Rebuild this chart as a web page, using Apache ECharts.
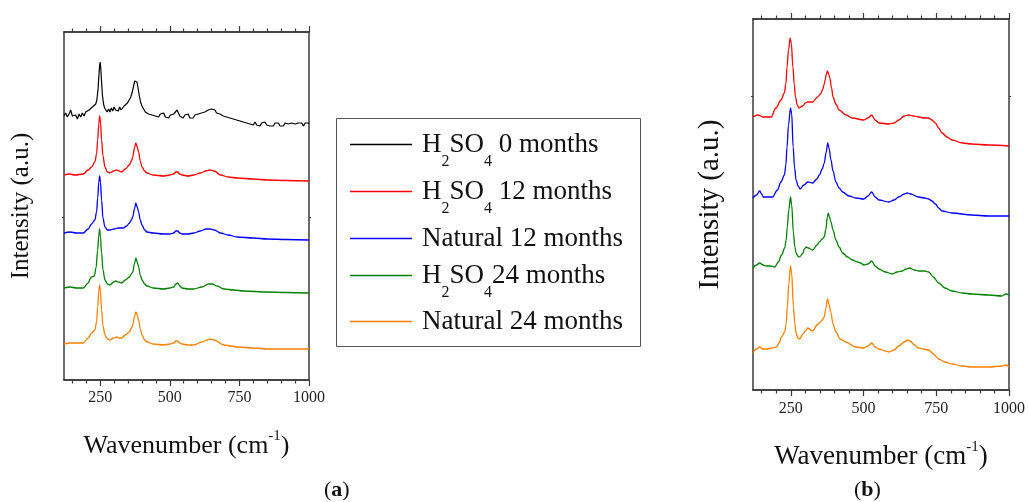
<!DOCTYPE html>
<html><head><meta charset="utf-8">
<script src="https://cdn.jsdelivr.net/npm/echarts@6/dist/echarts.min.js"></script>
<style>html,body{margin:0;padding:0;background:#fff}#c{width:1028px;height:502px}</style>
</head><body><div id="c"></div>
<script>
const FONT = '"Liberation Serif", "Times New Roman", serif';

// ---------- data ----------
const seriesNames = ['H2SO4 0 months', 'H2SO4 12 months', 'Natural 12 months', 'H2SO4 24 months', 'Natural 24 months'];
const seriesColors = ['#000000', '#ff0000', '#0000ff', '#008000', '#ff8000'];
const majorTicks = [250, 500, 750, 1000];
const minorTicks = [150, 200, 300, 350, 400, 450, 550, 600, 650, 700, 800, 850, 900, 950];

// panel (a): [wavenumber, intensity (a.u., offset-stacked)]
const aH2SO4_0 = [[120,264],[126,267],[132,263],[138,266],[144,270],[150,264],[156,262],[162,265],[168,261],[174,266],[180,263],[186,267],[192,264],[198,268],[204,266],[210,270],[216,268],[222,273],[228,271],[234,276],[238,280],[242,290],[245,303],[248,315],[250,318],[252,312],[255,298],[258,285],[262,276],[266,272],[270,270],[275,268],[280,271],[285,268],[290,272],[295,269],[300,273],[305,270],[310,272],[315,269],[320,273],[325,270],[330,272],[336,274],[342,273],[348,277],[354,279],[360,283],[366,289],[370,294],[374,299],[378,301],[382,298],[386,292],[390,285],[395,278],[400,274],[406,272],[412,268],[418,270],[424,266],[430,268],[436,265],[442,267],[448,264],[454,266],[460,263],[466,266],[472,264],[478,267],[484,263],[490,265],[496,262],[502,265],[508,263],[514,266],[520,268],[526,270],[530,268],[536,264],[542,266],[548,262],[554,265],[560,263],[566,266],[572,262],[578,264],[584,262],[590,265],[596,263],[602,266],[608,264],[614,267],[620,266],[626,268],[632,267],[638,270],[644,268],[650,271],[656,269],[662,270],[668,267],[674,269],[680,266],[686,267],[692,264],[698,266],[704,263],[710,265],[716,262],[722,264],[728,261],[734,263],[740,260],[746,262],[752,259],[758,261],[764,258],[770,260],[776,257],[782,259],[788,256],[794,258],[800,255],[806,258],[812,255],[818,257],[824,254],[830,257],[836,255],[842,258],[848,255],[854,257],[860,254],[866,256],[872,254],[878,257],[884,255],[890,257],[896,254],[902,256],[908,254],[914,257],[920,255],[926,256],[932,254],[938,257],[944,255],[950,256],[956,254],[962,257],[968,255],[974,257],[980,254],[986,257],[992,255],[998,257],[1000,256]];
const aH2SO4_12 = [[120,205],[140,206],[160,205],[189,206],[207,210],[219,213],[231,218],[237,226],[241,240],[245,256],[248,264],[251,258],[255,240],[260,224],[267,213],[276,208],[285,207],[298,209],[309,210],[318,209],[327,208],[340,211],[355,215],[362,219],[367,223],[373,232],[378,237],[383,233],[388,228],[394,219],[400,213],[410,209],[418,207],[440,205],[478,204],[500,205],[514,206],[522,208],[528,208],[536,206],[544,205],[565,204],[586,205],[610,207],[630,209],[643,210],[660,209],[682,205],[710,203],[742,202],[800,201],[850,200],[920,199.5],[1000,199]];
const aNatural_12 = [[120,147],[142,148],[165,147],[189,147],[207,151],[219,156],[231,160],[237,168],[241,182],[245,198],[248,204],[251,198],[255,180],[260,162],[267,153],[276,150],[285,150],[300,151],[315,152],[333,152],[345,154],[355,157],[362,160],[367,163],[373,171],[378,177],[383,173],[388,168],[394,160],[400,155],[410,150],[418,148],[440,147],[478,146],[500,146],[514,147],[522,149],[528,149],[536,147],[544,146],[565,146],[586,147],[610,149],[630,151],[645,151],[660,150],[682,147],[710,145],[742,143],[800,142],[850,141],[920,140.5],[1000,140]];
const aH2SO4_24 = [[120,92],[142,93],[165,92],[189,92],[207,97],[214,101],[218,103],[229,104],[235,112],[241,130],[245,145],[248,151],[251,143],[255,127],[260,110],[267,100],[276,96],[285,95],[298,98],[306,99],[315,98],[327,97],[340,100],[355,103],[362,106],[367,108],[373,116],[378,122],[383,118],[388,113],[394,105],[400,100],[410,96],[418,94],[440,92],[478,91],[500,92],[514,93],[522,96],[528,97],[536,94],[544,92],[565,91],[586,91],[615,93],[640,96],[652,96],[670,94],[694,91],[730,90],[766,89],[850,88],[920,87.5],[1000,87]];
const aNatural_24 = [[120,36],[142,37],[165,37],[189,37],[207,42],[219,47],[231,50],[237,58],[241,73],[245,89],[248,95],[251,88],[255,70],[260,54],[267,45],[276,41],[285,40],[298,42],[309,43],[318,42],[327,42],[340,45],[355,48],[362,52],[367,55],[373,63],[378,68],[383,65],[388,60],[394,51],[400,45],[410,40],[418,38],[440,36],[478,35],[500,36],[514,37],[522,39],[528,39],[536,37],[544,36],[565,35],[586,35],[615,38],[635,40],[645,41],[660,40],[694,35],[720,34],[742,33],[800,32],[850,31],[920,31],[1000,31]];

// panel (b)
const bH2SO4_12 = [[120,273],[137,275],[154,273],[182,273],[199,282],[216,290],[228,297],[233,306],[237,323],[242,340],[248,352],[252,346],[257,323],[262,305],[266,293],[272,285],[278,282],[291,284],[300,287],[308,288],[325,288],[342,293],[352,296],[359,300],[364,305],[368,310],[372,316],[376,319],[380,316],[384,312],[390,302],[395,293],[405,286],[416,280],[440,275],[461,272],[501,270],[515,272],[528,275],[540,270],[553,267],[587,266],[605,267],[621,270],[640,274],[655,275],[672,274],[689,273],[710,272],[724,272],[735,270],[747,267],[758,262],[770,257],[787,253],[804,250],[840,247],[872,246],[930,245],[1000,244]];
const bNatural_12 = [[120,192],[132,195],[143,199],[150,196],[155,193],[170,193],[187,193],[204,200],[216,208],[228,215],[233,225],[237,243],[242,265],[249,282],[253,276],[258,243],[263,222],[268,210],[275,204],[282,201],[295,205],[308,208],[325,207],[340,211],[348,215],[358,221],[365,227],[371,237],[377,247],[382,241],[388,230],[395,219],[405,208],[416,202],[428,198],[450,194],[473,192],[501,191],[515,194],[528,198],[540,193],[553,190],[587,188],[605,190],[621,193],[640,196],[650,197],[662,196],[689,193],[710,192],[724,191],[735,189],[747,186],[758,182],[770,179],[804,177],[872,175],[930,174],[1000,174]];
const bH2SO4_24 = [[120,122],[132,125],[143,127],[154,125],[166,124],[180,124],[195,123],[207,128],[218,135],[229,142],[234,150],[238,163],[243,180],[249,193],[253,185],[259,157],[264,143],[268,137],[274,134],[280,133],[290,136],[297,141],[303,143],[310,142],[325,140],[340,145],[348,148],[358,151],[365,153],[370,160],[375,172],[379,177],[383,173],[388,168],[395,160],[405,150],[416,143],[428,137],[445,133],[462,130],[479,128],[490,127],[501,125],[515,126],[528,129],[540,124],[553,121],[575,118],[599,116],[615,118],[633,119],[646,121],[658,122],[675,120],[690,119],[710,119],[724,118],[740,113],[758,107],[780,102],[804,99],[840,97],[872,96],[930,95],[975,94],[990,96],[1000,95]];
const bNatural_24 = [[120,37],[132,41],[143,43],[154,41],[166,41],[185,42],[200,43],[210,47],[218,53],[229,58],[234,66],[238,83],[243,106],[249,124],[253,116],[259,83],[264,66],[268,57],[274,52],[280,51],[292,56],[300,59],[308,62],[318,60],[325,59],[340,65],[348,67],[358,70],[365,73],[370,81],[376,91],[381,86],[388,77],[395,66],[405,58],[420,51],[439,48],[473,43],[501,42],[515,44],[528,47],[540,43],[553,41],[575,39],[587,38],[605,40],[621,44],[640,48],[650,50],[660,49],[675,45],[689,42],[705,41],[724,40],[740,36],[758,31],[780,28],[804,26],[840,24],[872,23],[930,23],[975,24],[990,25],[1000,23]];

const legendLabels = {
  'H2SO4 0 months': '{f|H}{s|2}{n|SO}{s|4}{n| 0 months}',
  'H2SO4 12 months': '{f|H}{s|2}{n|SO}{s|4}{n| 12 months}',
  'Natural 12 months': '{f|Natural 12 months}',
  'H2SO4 24 months': '{f|H}{s|2}{n|SO}{s|4}{n|24 months}',
  'Natural 24 months': '{f|Natural 24 months}'
};
const legendRowsY = [143, 190, 237, 274, 320];

// ---------- layout helpers ----------
const AX = '#3a3a3a';
function xAxesFor(grid, labelMargin, nameGap, nameSize) {
  const base = {type: 'value', gridIndex: grid, min: 120, max: 1000, splitLine: {show: false},
    axisLine: {show: true, onZero: false, lineStyle: {color: AX, width: 1.5}}};
  const tickStyle = {color: AX, width: 1.2};
  return [
    Object.assign({}, base, {position: 'bottom',
      axisTick: {show: true, inside: false, length: 6, customValues: majorTicks, lineStyle: tickStyle},
      axisLabel: {show: true, customValues: majorTicks, margin: labelMargin, color: '#222', fontFamily: FONT, fontSize: 16,
        formatter: (v) => String(v)},
      name: '{n|Wavenumber (cm}{sup|-1}{n|)}', nameLocation: 'middle', nameGap: nameGap,
      nameTextStyle: {rich: {n: {fontFamily: FONT, fontSize: nameSize, lineHeight: 36, color: '#111'},
        sup: {fontFamily: FONT, fontSize: 15, padding: [0, 0, 20, 0], color: '#111'}}}}),
    Object.assign({}, base, {position: 'bottom',
      axisTick: {show: true, inside: false, length: 3.5, customValues: minorTicks, lineStyle: tickStyle},
      axisLabel: {show: false}}),
    Object.assign({}, base, {position: 'top',
      axisTick: {show: true, inside: false, length: 6, customValues: majorTicks, lineStyle: tickStyle},
      axisLabel: {show: false}}),
    Object.assign({}, base, {position: 'top',
      axisTick: {show: true, inside: false, length: 3.5, customValues: minorTicks, lineStyle: tickStyle},
      axisLabel: {show: false}})
  ];
}
function yAxesFor(grid, max, tickVal, nameGap, nameSize) {
  const base = {type: 'value', gridIndex: grid, min: 0, max: max, splitLine: {show: false},
    axisLine: {show: true, onZero: false, lineStyle: {color: AX, width: 1.5}},
    axisTick: {show: true, inside: false, length: 2, customValues: [tickVal], lineStyle: {color: AX, width: 1}},
    axisLabel: {show: false}};
  return [
    Object.assign({}, base, {position: 'left', name: 'Intensity (a.u.)', nameLocation: 'middle', nameGap: nameGap,
      nameTextStyle: {fontFamily: FONT, fontSize: nameSize, color: '#111'}}),
    Object.assign({}, base, {position: 'right'})
  ];
}

const series = [];
const aData = [aH2SO4_0, aH2SO4_12, aNatural_12, aH2SO4_24, aNatural_24];
aData.forEach((d, i) => series.push({
  name: seriesNames[i], type: 'line', xAxisIndex: 0, yAxisIndex: 0, data: d,
  showSymbol: false, smooth: i === 0 ? false : 0.35, smoothMonotone: 'x',
  lineStyle: {color: seriesColors[i], width: i === 0 ? 1.2 : 1.3}, itemStyle: {color: seriesColors[i]}
}));
const bData = [bH2SO4_12, bNatural_12, bH2SO4_24, bNatural_24];
bData.forEach((d, i) => series.push({
  name: seriesNames[i + 1], type: 'line', xAxisIndex: 4, yAxisIndex: 2, data: d,
  showSymbol: false, smooth: 0.35, smoothMonotone: 'x',
  lineStyle: {color: seriesColors[i + 1], width: 1.3}, itemStyle: {color: seriesColors[i + 1]}
}));

const legends = seriesNames.map((nm, i) => ({
  data: [nm], left: 350, top: legendRowsY[i] - 12, padding: 0, orient: 'horizontal',
  icon: 'rect', itemWidth: 62, itemHeight: 1.5, itemGap: 0, selectedMode: false,
  formatter: (name) => legendLabels[name],
  textStyle: {rich: {
    f: {fontFamily: FONT, fontSize: 27, lineHeight: 50, color: '#111', padding: [0, 0, 0, 5]},
    n: {fontFamily: FONT, fontSize: 27, lineHeight: 50, color: '#111'},
    s: {fontFamily: FONT, fontSize: 16, padding: [34, 0, 0, 0], color: '#111'}
  }}
}));

const option = {
  animation: false,
  backgroundColor: '#ffffff',
  grid: [
    {left: 64, top: 32, width: 245, height: 348},
    {left: 753, top: 19, width: 258, height: 371}
  ],
  xAxis: xAxesFor(0, 10, 48, 26).concat(xAxesFor(1, 11, 49, 27)),
  yAxis: yAxesFor(0, 348, 163, 30, 25).concat(yAxesFor(1, 371, 294, 28, 29)),
  legend: legends,
  series: series,
  graphic: [
    {type: 'rect', left: 334, top: 116, shape: {width: 304, height: 228},
      style: {fill: 'none', stroke: '#555', lineWidth: 1}},
    {type: 'text', left: 324, top: 479, style: {text: '{p|(}{b|a}{p|)}',
      rich: {p: {fontFamily: FONT, fontSize: 22, fill: '#111'}, b: {fontFamily: FONT, fontSize: 22, fontWeight: 'bold', fill: '#111'}}}},
    {type: 'text', left: 854, top: 479, style: {text: '{p|(}{b|b}{p|)}',
      rich: {p: {fontFamily: FONT, fontSize: 22, fill: '#111'}, b: {fontFamily: FONT, fontSize: 22, fontWeight: 'bold', fill: '#111'}}}}
  ]
};
const chart = echarts.init(document.getElementById('c'), null, {renderer: 'canvas'});
chart.setOption(option);
</script>
</body></html>
